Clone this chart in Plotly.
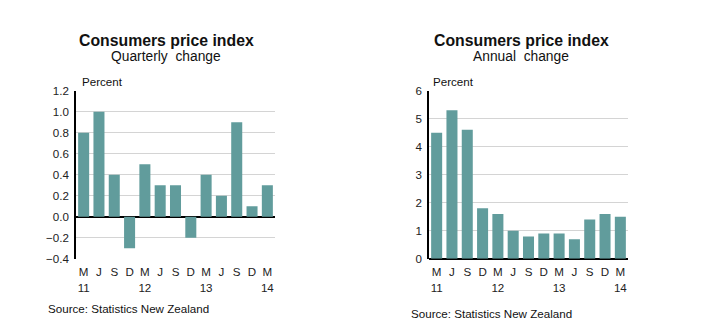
import plotly.graph_objects as go

quarters = ["M", "J", "S", "D", "M", "J", "S", "D", "M", "J", "S", "D", "M"]
years = {0: "11", 4: "12", 8: "13", 12: "14"}
quarterly_change = [0.8, 1.0, 0.4, -0.3, 0.5, 0.3, 0.3, -0.2, 0.4, 0.2, 0.9, 0.1, 0.3]
annual_change = [4.5, 5.3, 4.6, 1.8, 1.6, 1.0, 0.8, 0.9, 0.9, 0.7, 1.4, 1.6, 1.5]

tick_text = [q + "<br>" + years.get(i, " ") for i, q in enumerate(quarters)]
xs = list(range(len(quarters)))

W, H = 714, 335
BAR = "#619c9c"
FONT = "Liberation Sans, Arial, sans-serif"

fig = go.Figure()
fig.add_trace(go.Bar(x=xs, y=quarterly_change, marker_color=BAR, marker_line_width=0,
                     xaxis="x", yaxis="y", width=0.72))
fig.add_trace(go.Bar(x=xs, y=annual_change, marker_color=BAR, marker_line_width=0,
                     xaxis="x2", yaxis="y2", width=0.72))

def px_x(a, b):
    return [a / W, b / W]

def px_y(top, bottom):
    return [(H - bottom) / H, (H - top) / H]

xcommon = dict(tickvals=xs, ticktext=tick_text, range=[-0.5, 12.5], showgrid=False,
               ticks="", ticklabelstandoff=5, tickfont=dict(size=11.6, color="#222"),
               fixedrange=True)
ycommon = dict(showgrid=True, gridcolor="#d4d4d4", gridwidth=1,
               showline=True, linecolor="black", linewidth=1.5,
               zeroline=True, zerolinecolor="black", zerolinewidth=1.5,
               ticks="", ticklabelstandoff=3, tickfont=dict(size=11.6, color="#222"),
               fixedrange=True)
fig.update_layout(
    width=W, height=H, margin=dict(l=0, r=0, t=0, b=0),
    paper_bgcolor="white", plot_bgcolor="white", showlegend=False,
    font=dict(family=FONT, color="#111"),
    xaxis=dict(domain=px_x(76, 275), anchor="y", **xcommon),
    yaxis=dict(domain=px_y(87, 262), anchor="x", range=[-0.4, 1.2], dtick=0.2, tick0=0,
               tickformat=".1f", **ycommon),
    xaxis2=dict(domain=px_x(429, 628), anchor="y2", **xcommon),
    yaxis2=dict(domain=px_y(87, 262), anchor="x2", range=[0, 6], dtick=1, **ycommon),
)

def ann(x, y, text, size, bold=False, xanchor="center"):
    fig.add_annotation(x=x / W, y=(H - y) / H, xref="paper", yref="paper",
                       text=("<b>%s</b>" % text) if bold else text, showarrow=False,
                       xanchor=xanchor, yanchor="middle",
                       font=dict(size=size, family=FONT, color="#111"))

ann(166, 35, "Consumers price index", 15.8, bold=True)
ann(166, 52, "Quarterly  change", 13.8)
ann(80, 77, "Percent", 11.6, xanchor="left")
ann(46, 314, "Source: Statistics New Zealand", 11.6, xanchor="left")

ann(521, 35, "Consumers price index", 15.8, bold=True)
ann(521, 52, "Annual  change", 13.8)
ann(431, 77, "Percent", 11.6, xanchor="left")
ann(409, 319, "Source: Statistics New Zealand", 11.6, xanchor="left")

fig.write_html("out.html")
